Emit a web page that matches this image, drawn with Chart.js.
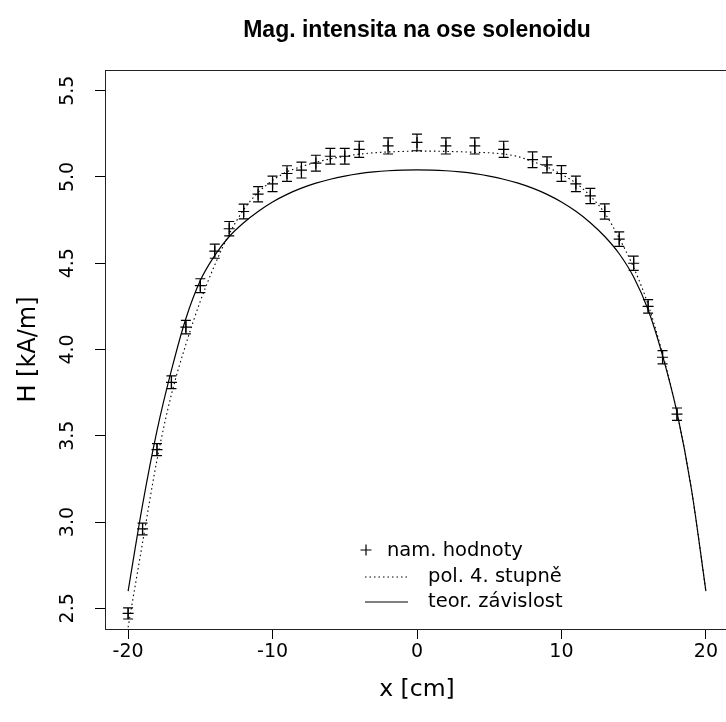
<!DOCTYPE html>
<html><head><meta charset="utf-8">
<script src="https://cdn.jsdelivr.net/npm/chart.js@4.4.0/dist/chart.umd.min.js"></script>
<style>html,body{margin:0;padding:0;overflow:hidden;background:#fff;width:726px;height:722px}canvas{display:block}</style>
</head><body>
<canvas id="c" width="740" height="722" style="width:740px;height:722px"></canvas>
<script>
// measured values
const xMeas = [-20,-19,-18,-17,-16,-15,-14,-13,-12,-11,-10,-9,-8,-7,-6,-5,-4,-2,0,2,4,6,8,9,10,11,12,13,14,15,16,17,18];
const yMeas = [2.47,2.96,3.42,3.81,4.13,4.37,4.57,4.70,4.80,4.90,4.96,5.02,5.04,5.08,5.12,5.12,5.16,5.18,5.20,5.18,5.18,5.16,5.10,5.07,5.02,4.96,4.89,4.80,4.64,4.50,4.25,3.955,3.625];
const yErr  = [0.032,0.034,0.035,0.037,0.039,0.040,0.041,0.042,0.043,0.044,0.045,0.045,0.046,0.046,0.046,0.046,0.047,0.047,0.048,0.047,0.047,0.047,0.046,0.046,0.046,0.045,0.044,0.044,0.042,0.041,0.039,0.038,0.036];
// curves
const xCurve = [-20,-19,-18,-17,-16,-15,-14,-13,-12,-11,-10,-9,-8,-7,-6,-5,-4,-3,-2,-1,0,1,2,3,4,5,6,7,8,9,10,11,12,13,14,15,16,17,18,19,20];
const yPoly = [2.39,2.88,3.36,3.74,4.03,4.28,4.49,4.67,4.81,4.91,4.98,5.03,5.06,5.085,5.105,5.12,5.132,5.14,5.145,5.148,5.15,5.15,5.148,5.146,5.143,5.14,5.133,5.118,5.09,5.058,5.015,4.965,4.89,4.79,4.645,4.475,4.26,3.975,3.635,3.19,2.60];
const yTheory = [2.60,3.10,3.53,3.88,4.18,4.40,4.545,4.655,4.735,4.80,4.855,4.899,4.935,4.964,4.987,5.005,5.019,5.029,5.036,5.04,5.041,5.04,5.036,5.029,5.019,5.005,4.987,4.964,4.935,4.899,4.855,4.801,4.735,4.655,4.555,4.42,4.23,3.965,3.635,3.19,2.60];
const xTicks = [-20,-10,0,10,20];
const yTicks = [2.5,3.0,3.5,4.0,4.5,5.0,5.5];
const titleText = 'Mag. intensita na ose solenoidu';
const xTitle = 'x [cm]';
const yTitle = 'H [kA/m]';
const legendLabels = ['nam. hodnoty','pol. 4. stupně','teor. závislost'];

const REG = 'DejaVu Sans';
const BOLD = 'Liberation Sans';

const extras = {
  id: 'extras',
  afterDatasetsDraw(chart) {
    const ctx = chart.ctx, xs = chart.scales.x, ys = chart.scales.y, a = chart.chartArea;
    ctx.save();
    ctx.strokeStyle = '#000'; ctx.lineWidth = 1.2;
    for (let i = 0; i < xMeas.length; i++) {
      const px = xs.getPixelForValue(xMeas[i]);
      const t = ys.getPixelForValue(yMeas[i] + yErr[i]);
      const b = ys.getPixelForValue(yMeas[i] - yErr[i]);
      ctx.beginPath();
      ctx.moveTo(px, t); ctx.lineTo(px, b);
      ctx.moveTo(px - 5, t); ctx.lineTo(px + 5, t);
      ctx.moveTo(px - 5, b); ctx.lineTo(px + 5, b);
      ctx.stroke();
    }
    // box
    ctx.lineWidth = 1;
    ctx.strokeStyle = '#222';
    ctx.strokeRect(Math.round(a.left) + 0.5, Math.round(a.top) + 0.5, Math.round(a.right - a.left), Math.round(a.bottom - a.top));
    ctx.strokeStyle = '#000';
    // title
    ctx.fillStyle = '#000';
    ctx.font = 'bold 23px "' + BOLD + '"';
    ctx.textAlign = 'center'; ctx.textBaseline = 'middle';
    ctx.fillText(titleText, (a.left + a.right) / 2, 31);
    // legend
    ctx.font = '19.5px "' + REG + '"';
    ctx.textAlign = 'left';
    ctx.lineWidth = 1.2;
    ctx.beginPath();
    ctx.moveTo(360.5, 550); ctx.lineTo(371.5, 550);
    ctx.moveTo(366, 544.5); ctx.lineTo(366, 555.5);
    ctx.stroke();
    ctx.fillText(legendLabels[0], 387, 551);
    ctx.lineWidth = 1;
    ctx.setLineDash([1.5, 3]);
    ctx.beginPath(); ctx.moveTo(365, 577); ctx.lineTo(407, 577); ctx.stroke();
    ctx.setLineDash([]);
    ctx.fillText(legendLabels[1], 428, 577);
    ctx.beginPath(); ctx.moveTo(365, 602); ctx.lineTo(408, 602); ctx.stroke();
    ctx.fillText(legendLabels[2], 428, 602);
    ctx.restore();
  }
};

new Chart(document.getElementById('c'), {
  type: 'scatter',
  data: {
    datasets: [
      { label: legendLabels[2], data: xCurve.map((x, i) => ({x, y: yTheory[i]})), showLine: true, borderColor: '#000', borderWidth: 1.2, pointRadius: 0, cubicInterpolationMode: 'monotone', fill: false },
      { label: legendLabels[1], data: xCurve.map((x, i) => ({x, y: yPoly[i]})), showLine: true, borderColor: '#000', borderWidth: 1.1, borderDash: [1.5, 3], pointRadius: 0, cubicInterpolationMode: 'monotone', fill: false },
      { label: legendLabels[0], data: xMeas.map((x, i) => ({x, y: yMeas[i]})), showLine: false, pointStyle: 'cross', pointRadius: 5.5, borderColor: '#000', borderWidth: 1.2, backgroundColor: '#000' }
    ]
  },
  options: {
    responsive: false, animation: false, devicePixelRatio: 1,
    layout: { padding: { top: 70, right: 11, left: 0, bottom: 0 } },
    plugins: { legend: { display: false }, tooltip: { enabled: false }, title: { display: false } },
    scales: {
      x: {
        type: 'linear', min: -21.6, max: 21.6,
        afterBuildTicks: s => { s.ticks = xTicks.map(v => ({ value: v })); },
        afterFit: s => { s.height = 93; },
        grid: { display: true, drawOnChartArea: false, drawTicks: true, tickLength: 10, tickColor: '#000', tickWidth: 1 },
        border: { display: false },
        ticks: { color: '#000', font: { family: REG, size: 19 }, padding: 2, maxRotation: 0, callback: v => String(v) },
        title: { display: true, text: xTitle, color: '#000', font: { family: REG, size: 23.5 }, padding: { top: 0, bottom: 18 } }
      },
      y: {
        type: 'linear', min: 2.38, max: 5.62,
        afterBuildTicks: s => { s.ticks = yTicks.map(v => ({ value: v })); },
        afterFit: s => { s.width = 105; },
        grid: { display: true, drawOnChartArea: false, drawTicks: true, tickLength: 10, tickColor: '#000', tickWidth: 1 },
        border: { display: false },
        ticks: { color: '#000', font: { family: REG, size: 19 }, padding: 12, minRotation: 90, maxRotation: 90, crossAlign: 'center', callback: v => v.toFixed(1) },
        title: { display: true, text: yTitle, color: '#000', font: { family: REG, size: 24 }, padding: { top: 14, bottom: 0 } }
      }
    }
  },
  plugins: [extras]
});
</script>
</body></html>
